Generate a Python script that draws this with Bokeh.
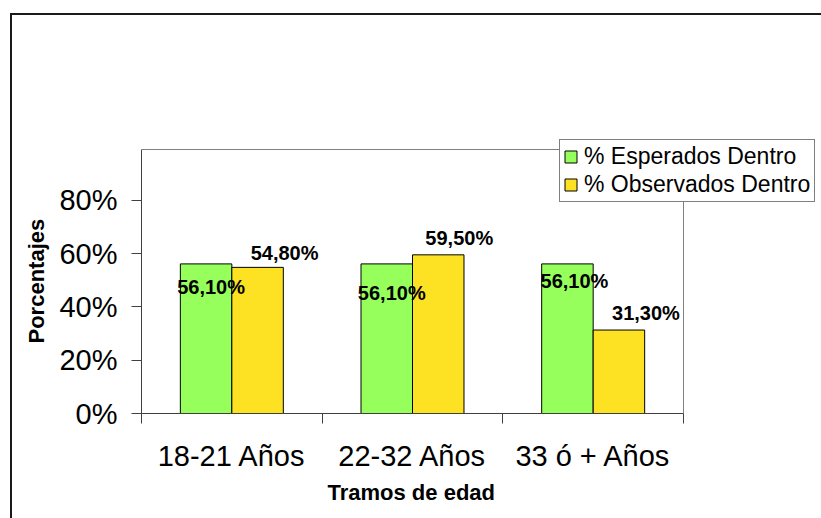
from bokeh.plotting import figure
from bokeh.models import (Range1d, FixedTicker, NumeralTickFormatter, ColumnDataSource,
                          Legend, LegendItem, Title)
from bokeh.core.properties import value
from bokeh.embed import file_html
from bokeh.resources import INLINE

# Data
categorias = ["18-21 Años", "22-32 Años", "33 ó + Años"]
esperados = [56.1, 56.1, 56.1]      # % Esperados Dentro
observados = [54.8, 59.5, 31.3]     # % Observados Dentro
y_ticks = [0.0, 0.2, 0.4, 0.6, 0.8]
y_tope = 0.99                        # top of the plot area

# Styling
FONT = "Liberation Sans"
VERDE = "#96FF5C"
AMARILLO = "#FDE123"
EJE = "#404040"
BORDE_AREA = "#808080"
BORDE_GRAFICO = "#1a1a1a"
BAR_W = 0.285

# Canvas geometry (pixels)
W, H = 821, 518
FRAME_L, FRAME_B = 141, 413
PX_CAT = 180.67                      # pixels per category
PX_Y = 264 / y_tope                  # pixels per unit of y

# label nudges (pixels): horizontal, vertical (positive = up)
esp_dx = [5, 5, 7]
esp_dy = [-23, -29, -17]
obs_dx = [27, 21, 27]
obs_dy = [14, 17, 17]

n = len(categorias)
centros = [i + 0.5 for i in range(n)]

def etiqueta(v):
    return f"{v:.2f}%".replace(".", ",")

src_esp = ColumnDataSource(dict(
    x=[c - BAR_W / 2 for c in centros],
    top=[v / 100 for v in esperados],
    txt=[etiqueta(v) for v in esperados],
    dx=esp_dx, dy=[-d for d in esp_dy],
))
src_obs = ColumnDataSource(dict(
    x=[c + BAR_W / 2 for c in centros],
    top=[v / 100 for v in observados],
    txt=[etiqueta(v) for v in observados],
    dx=obs_dx, dy=[-d for d in obs_dy],
))

# The frame reaches the right and top canvas edges so the legend can sit
# over the plot-area corner; the axes are bounded to the plot area itself.
p = figure(width=W, height=H,
           x_range=Range1d(0, (W - FRAME_L) / PX_CAT),
           y_range=Range1d(0, FRAME_B / PX_Y),
           min_border_left=FRAME_L, min_border_right=0,
           min_border_top=0, min_border_bottom=H - FRAME_B,
           output_backend="svg", toolbar_location=None)

p.xgrid.visible = False
p.ygrid.visible = False
p.outline_line_color = None
p.background_fill_alpha = 0
p.border_fill_alpha = 0
# outer chart border (left and top edges only; the rest lies off-page)
linea = f"linear-gradient({BORDE_GRAFICO}, {BORDE_GRAFICO})"
p.styles = {
    "background-color": "white",
    "background-image": f"{linea}, {linea}",
    "background-size": "2px 600px, 900px 2px",
    "background-position": "10px 13px, 10px 13px",
    "background-repeat": "no-repeat",
    "overflow": "hidden",
}

# plot-area border (top and right)
p.line(x=[0, n, n], y=[y_tope, y_tope, 0], line_color=BORDE_AREA, line_width=1)

# Bars
r_esp = p.vbar(x="x", top="top", width=BAR_W, source=src_esp,
               fill_color=VERDE, line_color="black", line_width=1)
r_obs = p.vbar(x="x", top="top", width=BAR_W, source=src_obs,
               fill_color=AMARILLO, line_color="black", line_width=1)

# Value labels
for src in (src_esp, src_obs):
    p.text(x="x", y="top", text="txt", source=src,
           x_offset="dx", y_offset="dy",
           text_font=value(FONT), text_font_style="bold",
           text_font_size="20px", text_align="center",
           text_baseline="middle", text_color="black")

# Y axis
ya = p.yaxis[0]
ya.bounds = (0, y_tope)
ya.ticker = FixedTicker(ticks=y_ticks)
ya.formatter = NumeralTickFormatter(format="0%")
ya.major_tick_out = 10
ya.major_tick_in = 0
ya.minor_tick_out = 0
ya.minor_tick_in = 0
ya.axis_line_color = EJE
ya.major_tick_line_color = EJE
ya.major_label_text_font = FONT
ya.major_label_text_font_size = "29px"
ya.major_label_text_color = "black"
ya.major_label_standoff = 14

# X axis: names at category centres, ticks at category boundaries
xa = p.xaxis[0]
xa.bounds = (0, n)
xa.ticker = FixedTicker(ticks=centros, minor_ticks=list(range(n + 1)))
xa.major_label_overrides = {c: name for c, name in zip(centros, categorias)}
xa.major_tick_out = 0
xa.major_tick_in = 0
xa.minor_tick_out = 10
xa.minor_tick_in = 0
xa.minor_tick_line_color = EJE
xa.axis_line_color = EJE
xa.major_label_text_font = FONT
xa.major_label_text_font_size = "29px"
xa.major_label_text_color = "black"
xa.major_label_standoff = 16

# Axis titles, centred on the plot area rather than on the whole frame
t_x = Title(text="Tramos de edad", align="left", offset=186,
            text_font=FONT, text_font_size="22px", text_font_style="bold",
            text_color="black", standoff=6)
p.add_layout(t_x, "below")
t_y = Title(text="Porcentajes", align="left", offset=70,
            text_font=FONT, text_font_size="22px", text_font_style="bold",
            text_color="black", standoff=16)
p.add_layout(t_y, "left")

# Legend
legend = Legend(items=[LegendItem(label="% Esperados Dentro", renderers=[r_esp]),
                       LegendItem(label="% Observados Dentro", renderers=[r_obs])],
                location=(418, 211))
legend.border_line_color = "black"
legend.border_line_width = 1
legend.background_fill_color = "white"
legend.background_fill_alpha = 1
legend.label_text_font = FONT
legend.label_text_font_size = "23px"
legend.label_text_color = "black"
legend.label_width = 227
legend.glyph_width = 15
legend.glyph_height = 15
legend.label_standoff = 6
legend.padding = 3
legend.spacing = 1
legend.margin = 0
p.add_layout(legend)

open("out.html", "w").write(file_html(p, INLINE))
